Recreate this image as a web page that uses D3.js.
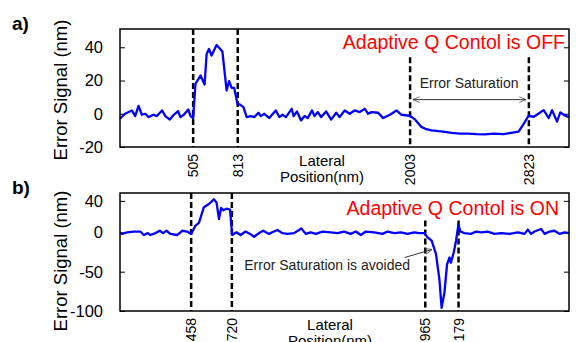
<!DOCTYPE html>
<html>
<head>
<meta charset="utf-8">
<script src="https://cdn.jsdelivr.net/npm/d3@7"></script>
<style>
    body { margin: 0; background: #fff; }
    svg { display: block; font-family: Arial, 'Liberation Sans', sans-serif; }
</style>
</head>
<body>
<svg id="vis" width="576" height="342"></svg>
<script>
'use strict';

// panel a) - adaptive Q control off
var posA = [0, 35, 82, 105, 128, 151, 174, 198, 232, 255, 290, 313, 344, 371, 401, 417, 441, 471, 487, 505,
    521, 556, 584, 598, 614, 632, 667, 707, 736, 753, 771, 788, 811, 829, 852, 875, 903, 927, 956, 972, 996,
    1031, 1042, 1076, 1100, 1123, 1146, 1185, 1199, 1222, 1250, 1274, 1296, 1326, 1343, 1366, 1389, 1423, 1458,
    1493, 1516, 1551, 1586, 1620, 1655, 1690, 1713, 1736, 1782, 1817, 1864, 1909, 1944, 2000, 2034, 2081, 2115,
    2150, 2200, 2231, 2290, 2346, 2400, 2462, 2520, 2578, 2648, 2700, 2752, 2786, 2821, 2856, 2902, 2925, 2960,
    2983, 3017, 3040, 3075, 3100];
var errA = [-3, 0, 2, -1.4, 4.7, -0.6, 0, -2, -0.6, -1.4, 2, -1.4, -3.5, -0.6, 1.6, -2, -0.6, 2.6, -1.4, -2.6,
    18, 23, 17.6, 35.8, 39, 35, 41.4, 37.4, 14, 19.6, 15.6, 15.6, 6, 5.5, 4, -2, -1.4, -2, 0.6, -1.4, 0,
    -2.6, -1.4, 2, -2, -0.6, -2, 3, -1.4, 1.4, -4, -1.4, -2.6, 2, -1.4, 1, -2, 1.4, -3.5,
    0.6, -2, 2, 0, 2, 1, 3, 0, 1, 0.6, -2.6, -0.6, 2, -0.6, -1.2, -3.2, -7.9, -9.3,
    -10, -10.5, -10.7, -11.5, -11.9, -12, -12.3, -12.4, -11.9, -12.3, -11.5, -10.7, -6.2, -1.2, -1.8, 0.8, 2.2, -2.6,
    2.2, -4.7, 0.8, -1.2, -2];
var marksA = [505, 813, 2003, 2823];
var yTicksA = [-20, 0, 20, 40];

// panel b) - adaptive Q control on
var posB = [0, 13, 45, 88, 131, 153, 179, 195, 228, 256, 277, 299, 324, 368, 400, 432, 458, 486, 508, 540, 572,
    604, 621, 637, 651, 664, 686, 708, 722, 750, 776, 808, 837, 863, 895, 922, 959, 980, 1013, 1045, 1077,
    1120, 1153, 1167, 1195, 1227, 1260, 1303, 1356, 1400, 1443, 1485, 1518, 1550, 1582, 1636, 1690, 1722, 1765,
    1808, 1851, 1894, 1927, 1959, 1980, 2006, 2034, 2056, 2070, 2088, 2105, 2121, 2130, 2148, 2163, 2178, 2191,
    2217, 2259, 2292, 2324, 2367, 2410, 2453, 2507, 2561, 2604, 2625, 2646, 2668, 2711, 2733, 2765, 2797, 2830,
    2862, 2890];
var errB = [-1, -2, 0, 1, 1, -3.4, -1, -3.4, -1, 2, -1, 2, -2, -3.4, 2, 1, -2, 8.6, 12, 32, 36,
    42, 38, 17, 31, 28, 30, 29, -3.4, 0, -3.4, 1, -2, -5.6, -1, 2, -2, 0, 3, -1, -2,
    -1, 3, 5, -2, 0, -2, 1, 0, -1, 1, -2, 1, -3.4, 1, 0, -2, 1, -1,
    0, -2, 0, -1, -1, -6.4, -10.6, -27.8, -60, -96, -77, -40.6, -32, -38.5, -25.6, -10.6, 9.4, 1,
    -1, -2, 1, 0, 1, -2, -1, -2, 0, -2, 3.5, -2, 1, 4.2, -2, 1, 2, -2,
    0, -1];
var marksB = [458, 720, 1965, 2179];
var yTicksB = [-100, -50, 0, 40];

var svg = d3.select('#vis');

function drawPanel(p) {
    var x = d3.scaleLinear().domain(p.xDomain).range([p.left, p.right]);
    var y = d3.scaleLinear().domain(p.yDomain).range([p.bottom, p.top]);
    var g = svg.append('g');

    //y axis left and right, ticks inside
    g.append('g')
        .attr('transform', 'translate(' + p.left + ',0)')
        .call(d3.axisRight(y).tickValues(p.yTicks).tickSize(5).tickFormat(''))
        .call(function (a) { a.select('.domain').remove(); });
    g.append('g')
        .attr('transform', 'translate(' + p.right + ',0)')
        .call(d3.axisLeft(y).tickValues(p.yTicks).tickSize(5).tickFormat(''))
        .call(function (a) { a.select('.domain').remove(); });
    g.selectAll('.tick line').attr('stroke', '#000').attr('stroke-width', 1);

    //y tick labels
    g.selectAll('text.ylab')
        .data(p.yTicks)
        .enter().append('text')
        .attr('class', 'ylab')
        .attr('x', p.left - 17)
        .attr('y', function (d) { return y(d); })
        .attr('dy', '0.36em')
        .attr('text-anchor', 'end')
        .attr('font-size', 16.5)
        .text(function (d) { return d; });

    //dashed marker lines
    g.selectAll('line.mark')
        .data(p.marks)
        .enter().append('line')
        .attr('class', 'mark')
        .attr('x1', function (d) { return x(d); })
        .attr('x2', function (d) { return x(d); })
        .attr('y1', function (d, i) { return i < 2 ? p.top : y(p.dashTop); })
        .attr('y2', p.bottom)
        .attr('stroke', '#000')
        .attr('stroke-width', 2.5)
        .attr('stroke-dasharray', '6,3');

    //rotated x labels at markers
    g.selectAll('text.xlab')
        .data(p.marks)
        .enter().append('text')
        .attr('class', 'xlab')
        .attr('transform', function (d) {
            return 'translate(' + x(d) + ',' + (p.bottom + 7) + ') rotate(-90)';
        })
        .attr('dy', '0.36em')
        .attr('text-anchor', 'end')
        .attr('font-size', 14)
        .text(function (d) { return d; });

    //signal
    var line = d3.line()
        .x(function (d) { return x(d[0]); })
        .y(function (d) { return y(d[1]); });
    g.append('path')
        .datum(d3.zip(p.pos, p.err))
        .attr('d', line)
        .attr('fill', 'none')
        .attr('stroke', '#0000ff')
        .attr('stroke-width', 2.3)
        .attr('stroke-linejoin', 'round');

    //frame
    g.append('rect')
        .attr('x', p.left)
        .attr('y', p.top)
        .attr('width', p.right - p.left)
        .attr('height', p.bottom - p.top)
        .attr('fill', 'none')
        .attr('stroke', '#000')
        .attr('stroke-width', 1.5);

    //titles and labels
    g.append('text')
        .attr('x', p.titleX).attr('y', p.top + p.titleDy)
        .attr('text-anchor', 'end')
        .attr('font-size', 19.5)
        .attr('fill', '#ff0000')
        .text(p.title);
    g.append('text')
        .attr('x', 12).attr('y', p.top + 1)
        .attr('font-size', 19)
        .attr('font-weight', 'bold')
        .text(p.tag);
    g.append('text')
        .attr('transform', 'translate(' + 67 + ',' + p.yLabelY + ') rotate(-90)')
        .attr('text-anchor', 'middle')
        .attr('font-size', 18.5)
        .text('Error Signal (nm)');
    g.append('text')
        .attr('x', p.xLabelX).attr('y', p.bottom + 19)
        .attr('text-anchor', 'middle')
        .attr('font-size', 15)
        .text('Lateral');
    g.append('text')
        .attr('x', p.xLabelX).attr('y', p.bottom + 35)
        .attr('text-anchor', 'middle')
        .attr('font-size', 15)
        .text('Position(nm)');

    return { x: x, y: y, g: g };
}

//arrowheads
var defs = svg.append('defs');
defs.append('marker')
    .attr('id', 'head')
    .attr('viewBox', '0 0 10 10')
    .attr('refX', 9).attr('refY', 5)
    .attr('markerWidth', 7).attr('markerHeight', 7)
    .attr('orient', 'auto-start-reverse')
    .append('path')
    .attr('d', 'M0,1 L10,5 L0,9')
    .attr('fill', 'none')
    .attr('stroke', '#333');

var a = drawPanel({
    left: 120, right: 569, top: 29, bottom: 147,
    xDomain: [0, 3100], yDomain: [-20, 51],
    pos: posA, err: errA, marks: marksA, yTicks: yTicksA, dashTop: 34,
    title: 'Adaptive Q Contol is OFF', titleX: 565, titleDy: 20,
    tag: 'a)', yLabelY: 90, xLabelX: 322
});

a.g.append('line')
    .attr('x1', a.x(2025)).attr('x2', a.x(2800))
    .attr('y1', a.y(8.5)).attr('y2', a.y(8.5))
    .attr('stroke', '#333')
    .attr('stroke-width', 1)
    .attr('marker-start', 'url(#head)')
    .attr('marker-end', 'url(#head)');
a.g.append('text')
    .attr('x', a.x(2410)).attr('y', a.y(15.2))
    .attr('text-anchor', 'middle')
    .attr('font-size', 14)
    .attr('fill', '#222')
    .text('Error Saturation');

var b = drawPanel({
    left: 120, right: 569, top: 193, bottom: 311,
    xDomain: [0, 2890], yDomain: [-100, 50],
    pos: posB, err: errB, marks: marksB, yTicks: yTicksB, dashTop: 15,
    title: 'Adaptive Q Contol is ON', titleX: 559, titleDy: 22,
    tag: 'b)', yLabelY: 261, xLabelX: 330
});

b.g.append('line')
    .attr('x1', b.x(1832)).attr('x2', b.x(2006))
    .attr('y1', b.y(-32)).attr('y2', b.y(-22))
    .attr('stroke', '#333')
    .attr('stroke-width', 1)
    .attr('marker-end', 'url(#head)');
b.g.append('text')
    .attr('x', b.x(800)).attr('y', b.y(-47.4))
    .attr('font-size', 14)
    .attr('fill', '#222')
    .text('Error Saturation is avoided');
</script>
</body>
</html>
